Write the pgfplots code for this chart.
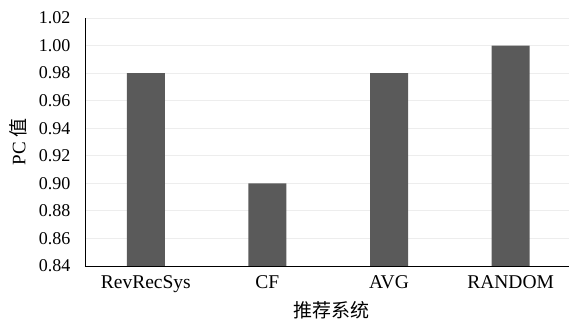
\documentclass[border=0pt]{standalone}
\usepackage{fontspec}
\setmainfont{Liberation Serif}
\newfontfamily\cjk{Noto Sans CJK SC}
\usepackage{pgfplots}
\pgfplotsset{compat=1.18}
\definecolor{bargray}{HTML}{5A5A5A}
\definecolor{gridgray}{HTML}{EDEDED}

\begin{document}
\begin{tikzpicture}
\path[use as bounding box] (-85pt,-54pt) rectangle (484pt,266pt);
\begin{axis}[
  at={(0,0)}, anchor=south west,
  scale only axis, width=484pt, height=248pt,
  ybar, bar width=38pt,
  xmin=-0.5, xmax=3.48,
  ymin=0.84, ymax=1.02,
  ytick={0.84,0.86,0.88,0.90,0.92,0.94,0.96,0.98,1.00,1.02},
  yticklabel style={/pgf/number format/fixed, /pgf/number format/fixed zerofill, /pgf/number format/precision=2},
  /pgf/number format/assume math mode=true,
  xtick={0,1,2,3}, xticklabels={RevRecSys,CF,AVG,RANDOM},
  axis x line=bottom, axis y line=left,
  axis line style={-, black, line width=0.9pt},
  ymajorgrids, grid style={draw=gridgray, line width=0.9pt},
  major tick length=0pt,
  y tick label style={font=\fontsize{18}{18}\selectfont, xshift=-11pt},
  x tick label style={font=\fontsize{19.5}{19.5}\selectfont, yshift=-6pt},
  ylabel={PC {\cjk 值}}, xlabel={\cjk 推荐系统},
  every axis y label/.style={at={(axis description cs:-0.138,0.5)}, rotate=90, anchor=center,
    font=\fontsize{19}{19}\selectfont},
  every axis x label/.style={at={(axis description cs:0.51,-0.18)}, anchor=center,
    font=\fontsize{19}{19}\selectfont},
]
\addplot[fill=bargray, draw=none] coordinates {(0,0.98) (1,0.90) (2,0.98) (3,1.00)};
\end{axis}
\end{tikzpicture}
\end{document}
